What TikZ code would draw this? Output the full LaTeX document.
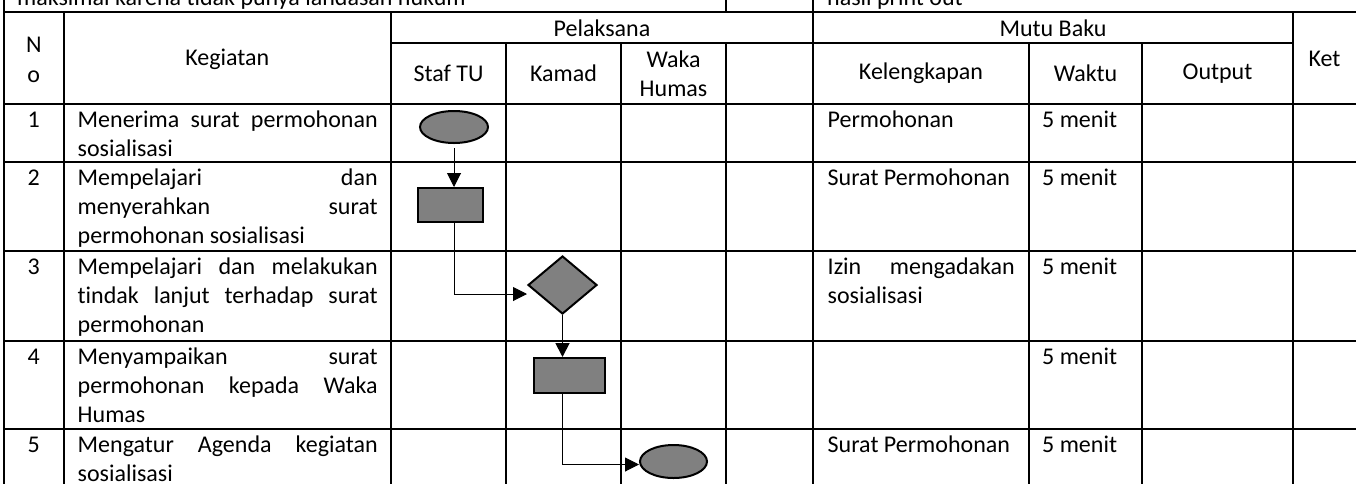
\documentclass[tikz,border=0pt]{standalone}
\usepackage{fontspec}
\setmainfont{Carlito}[Ligatures=NoCommon]
\usetikzlibrary{shapes.geometric,arrows.meta}
\definecolor{shapegray}{RGB}{128,128,128}
\newcommand{\cellfont}{\fontsize{24}{29.3}\selectfont}
\tolerance=10000
\hbadness=10000
\hyphenpenalty=10000
\exhyphenpenalty=10000
\begin{document}
\begin{tikzpicture}[x=1pt,y=-1pt,
  grid/.style={line width=2pt, line cap=rect},
  cell/.style={inner sep=0pt, font=\cellfont},
  hdr/.style={cell, align=center},
  num/.style={cell, anchor=north},
  desc/.style={cell, anchor=north west, text width=300pt, align=justify},
  kel/.style={cell, anchor=north west, text width=187pt, align=justify},
  wkt/.style={cell, anchor=north west},
  proc/.style={rectangle, draw=black, line width=2pt, fill=shapegray, inner sep=0pt},
  term/.style={ellipse, draw=black, line width=2pt, fill=shapegray, inner sep=0pt},
  decide/.style={diamond, draw=black, line width=2pt, fill=shapegray, inner sep=0pt},
  flow/.style={draw=black, line width=1pt, -{Triangle[length=14pt,width=14pt]}},
]
\useasboundingbox (0,0) rectangle (1356,483);
\clip (0,0) rectangle (1356,483);

% ---- table rules ----
% horizontal rules
\foreach \yy in {12,104,162,251,341,429}
  \draw[grid] (4,\yy) -- (1362,\yy);
\draw[grid] (391,43) -- (1293,43);
% full-height vertical rules
\draw[grid] (4,-6) -- (4,490);
\foreach \xx in {63.5,391,1293}
  \draw[grid] (\xx,12) -- (\xx,490);
\draw[grid] (813,-6) -- (813,490);
\draw[grid] (726,-6) -- (726,12);
% vertical rules below the group headings
\foreach \xx in {506,621,726,1029,1142}
  \draw[grid] (\xx,43) -- (\xx,490);

% ---- strip above the table ----
\node[cell, anchor=base west] (noteL) at (17,5.5) {maksimal karena tidak punya landasan hukum};
\node[cell, anchor=base west] (noteR) at (827,5.5) {hasil print out};

% ---- header ----
\node[hdr] (hNo)   at (33.75,60)   {N\\o};
\node[hdr] (hKeg)  at (227.25,59)  {Kegiatan};
\node[hdr] (hPel)  at (602,28)     {Pelaksana};
\node[hdr] (hMutu) at (1053,28)    {Mutu Baku};
\node[hdr] (hStaf) at (448.5,73.5) {Staf TU};
\node[hdr] (hKam)  at (563.5,73.5) {Kamad};
\node[hdr] (hWaka) at (673.5,73.5) {Waka\\Humas};
\node[hdr] (hKel)  at (921,73.5)   {Kelengkapan};
\node[hdr] (hWkt)  at (1085.5,73.5){Waktu};
\node[hdr] (hOut)  at (1217.5,73.5){Output};
\node[hdr] (hKet)  at (1324.5,59)  {Ket};

% ---- rows ----
\node[num] (n1) at (33.75,106.5) {\strut 1};
\node[num] (n2) at (33.75,164.5) {\strut 2};
\node[num] (n3) at (33.75,253.5) {\strut 3};
\node[num] (n4) at (33.75,343.5) {\strut 4};
\node[num] (n5) at (33.75,431.5) {\strut 5};

\node[desc] (k1) at (77.5,106.5) {\strut Menerima surat permohonan\linebreak sosialisasi};
\node[desc] (k2) at (77.5,164.5) {\strut Mempelajari dan\linebreak menyerahkan surat\linebreak permohonan sosialisasi};
\node[desc] (k3) at (77.5,253.5) {\strut Mempelajari dan melakukan\linebreak tindak lanjut terhadap surat\linebreak permohonan};
\node[desc] (k4) at (77.5,343.5) {\strut Menyampaikan surat\linebreak permohonan kepada Waka\linebreak Humas};
\node[desc] (k5) at (77.5,431.5) {\strut Mengatur Agenda kegiatan\linebreak sosialisasi};

\node[kel] (l1) at (827.5,106.5) {\strut Permohonan};
\node[kel] (l2) at (827.5,164.5) {\strut Surat Permohonan};
\node[kel] (l3) at (827.5,253.5) {\strut Izin mengadakan\linebreak sosialisasi};
\node[kel] (l5) at (827.5,431.5) {\strut Surat Permohonan};

\node[wkt] (w1) at (1042,106.5) {\strut 5 menit};
\node[wkt] (w2) at (1042,164.5) {\strut 5 menit};
\node[wkt] (w3) at (1042,253.5) {\strut 5 menit};
\node[wkt] (w4) at (1042,343.5) {\strut 5 menit};
\node[wkt] (w5) at (1042,431.5) {\strut 5 menit};

% ---- flow symbols ----
\node[term,   minimum width=68pt, minimum height=32pt] (e1) at (454,127) {};
\node[proc,   minimum width=65pt, minimum height=34pt] (r1) at (450.5,205) {};
\node[decide, minimum width=69pt, minimum height=58pt] (d1) at (562.5,285) {};
\node[proc,   minimum width=71pt, minimum height=35pt] (r2) at (569.5,375.5) {};
\node[term,   minimum width=67pt, minimum height=33pt] (e2) at (673.5,461.5) {};

% ---- connectors ----
\draw[flow, shorten <=4pt] (e1.south) -- (e1.south |- r1.north);
\draw[flow] (e1.south |- r1.south) |- ([yshift=-9pt]d1.west);
\draw[flow, line width=1.8pt] (d1.south) -- (d1.south |- r2.north);
\draw[flow] (d1.south |- r2.south) |- ([yshift=-3pt]e2.west);
\end{tikzpicture}
\end{document}
